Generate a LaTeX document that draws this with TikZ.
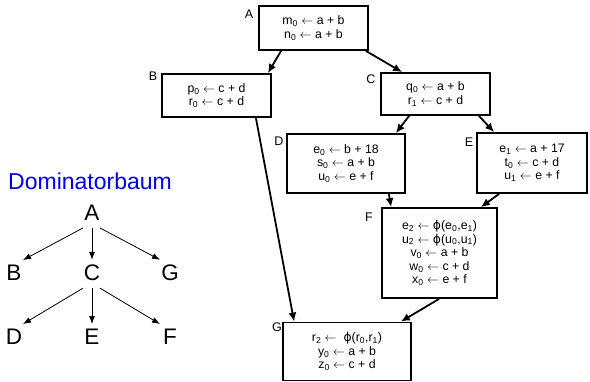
\documentclass[tikz,border=0pt]{standalone}
\usepackage{fontspec}
\setmainfont{Liberation Sans}
\newfontfamily\dejavu{DejaVu Sans}
\usetikzlibrary{arrows.meta}
\definecolor{domblue}{RGB}{0,0,230}
\newcommand{\sbs}[1]{\textsubscript{#1}}
\newcommand{\la}{$\leftarrow$}
\newcommand{\fph}{{\dejavu ϕ}}
\begin{document}
\begin{tikzpicture}[x=1pt,y=-1pt,
  blk/.style={draw=black,line width=1.8pt,inner sep=0pt,align=center,
    font=\fontsize{12.3}{13.6}\selectfont},
  lbl/.style={inner sep=0pt,font=\fontsize{12.5}{14}\selectfont},
  cfa/.style={line width=1.8pt,-{Latex[length=9pt,width=8pt]}},
  tnode/.style={inner sep=0pt,font=\fontsize{22.5}{24}\selectfont},
  tarr/.style={line width=0.8pt,-{Latex[length=8pt,width=6pt]}}]
\useasboundingbox (0,0) rectangle (590,382);
% CFG blocks
\node[blk,minimum width=109pt,minimum height=44pt] (A) at (313.5,28)
  {m\sbs{0} \la{} a + b\\ n\sbs{0} \la{} a + b};
\node[blk,minimum width=109pt,minimum height=43pt] (B) at (216.5,95.5)
  {p\sbs{0} \la{} c + d\\ r\sbs{0} \la{} c + d};
\node[blk,minimum width=109pt,minimum height=42pt] (C) at (435.5,94)
  {q\sbs{0} \la{} a + b\\ r\sbs{1} \la{} c + d};
\node[blk,minimum width=118pt,minimum height=59pt] (D) at (346,163.5)
  {e\sbs{0} \la{} b + 18\\ s\sbs{0} \la{} a + b\\ u\sbs{0} \la{} e + f};
\node[blk,minimum width=110pt,minimum height=60pt] (E) at (532,163)
  {e\sbs{1} \la{} a + 17\\ t\sbs{0} \la{} c + d\\ u\sbs{1} \la{} e + f};
\node[blk,minimum width=115pt,minimum height=90pt] (F) at (439.5,253)
  {e\sbs{2} \la{} \fph(e\sbs{0},e\sbs{1})\\ u\sbs{2} \la{} \fph(u\sbs{0},u\sbs{1})\\
   v\sbs{0} \la{} a + b\\ w\sbs{0} \la{} c + d\\ x\sbs{0} \la{} e + f};
\node[blk,minimum width=128pt,minimum height=58pt] (G) at (347,351.5)
  {r\sbs{2} \la{}\ \ \fph(r\sbs{0},r\sbs{1})\\ y\sbs{0} \la{} a + b\\ z\sbs{0} \la{} c + d};
% block labels
\node[lbl] (lA) at (249,14) {A};
\node[lbl] (lB) at (153,76) {B};
\node[lbl] (lC) at (371,79) {C};
\node[lbl] (lD) at (279,141) {D};
\node[lbl] (lE) at (469,142) {E};
\node[lbl] (lF) at (369,217) {F};
\node[lbl] (lG) at (277,327) {G};
% CFG edges
\draw[cfa] ([xshift=23pt]A.south west) -- ([xshift=-4pt]B.north east);
\draw[cfa] ([xshift=-3pt]A.south east) -- ([xshift=22pt]C.north west);
\draw[cfa] ([xshift=-16pt]B.south east) -- ([xshift=12pt]G.north west);
\draw[cfa] ([xshift=29pt]C.south west) -- ([xshift=-10pt]D.north east);
\draw[cfa] ([xshift=-12pt]C.south east) -- ([xshift=18pt]E.north west);
\draw[cfa] ([xshift=-17pt]D.south east) -- ([xshift=10pt]F.north west);
\draw[cfa] ([xshift=23pt]E.south west) -- ([xshift=-17pt]F.north east);
\draw[cfa] ([xshift=58pt]F.south west) -- ([xshift=-11pt]G.north east);
% Dominator tree
\node[anchor=base west,inner sep=0pt,text=domblue,font=\fontsize{23}{25}\selectfont] (title) at (8,190) {Dominatorbaum};
\node[tnode] (tA) at (92,213) {A};
\node[tnode] (tB) at (14,273) {B};
\node[tnode] (tC) at (92,273) {C};
\node[tnode] (tG) at (170,273) {G};
\node[tnode] (tD) at (14,337) {D};
\node[tnode] (tE) at (92,337) {E};
\node[tnode] (tF) at (170,337) {F};
\draw[tarr] ([xshift=-9pt,yshift=-7pt]tA.south) -- ([xshift=9pt,yshift=5pt]tB.north);
\draw[tarr] ([yshift=-7pt]tA.south) -- ([yshift=5pt]tC.north);
\draw[tarr] ([xshift=8pt,yshift=-7pt]tA.south) -- ([xshift=-10pt,yshift=5pt]tG.north);
\draw[tarr] ([xshift=-9pt,yshift=-7pt]tC.south) -- ([xshift=9pt,yshift=5pt]tD.north);
\draw[tarr] ([yshift=-7pt]tC.south) -- ([yshift=5pt]tE.north);
\draw[tarr] ([xshift=8pt,yshift=-7pt]tC.south) -- ([xshift=-10pt,yshift=5pt]tF.north);
\end{tikzpicture}
\end{document}
